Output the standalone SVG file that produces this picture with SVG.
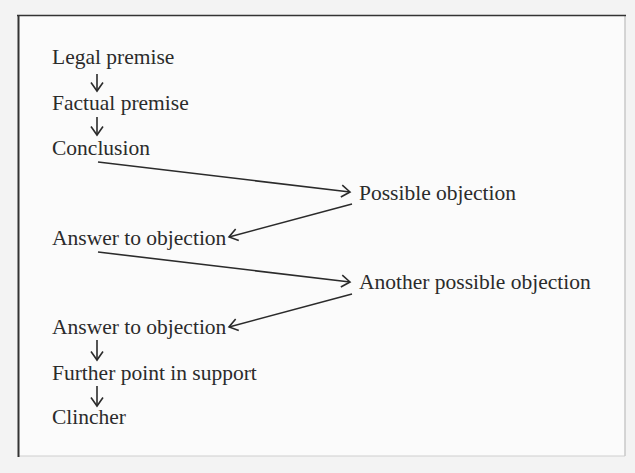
<svg xmlns="http://www.w3.org/2000/svg" width="635" height="473" viewBox="0 0 635 473">
<style>
.t{font-family:"Liberation Serif","DejaVu Serif",serif;font-size:21.5px;fill:#2b2b2b}
.c{stroke:#2b2b2b;stroke-width:1.6;fill:none}
</style>
<defs>
<marker id="ah" viewBox="0 0 12 14" refX="10" refY="7" markerWidth="12" markerHeight="14" markerUnits="userSpaceOnUse" orient="auto">
<path d="M1.5,1 L10,7 L1.5,13" fill="none" stroke="#2b2b2b" stroke-width="1.6"/>
</marker>
</defs>
<rect x="0" y="0" width="635" height="473" fill="#f3f3f3"/>
<rect x="18" y="15" width="607" height="441" fill="#fbfbfb"/>
<g id="frame">
<line x1="18" y1="456" x2="625" y2="456" stroke="#d0d0d0" stroke-width="1.2"/>
<line x1="625" y1="15" x2="625" y2="456" stroke="#c8c8c8" stroke-width="1.5"/>
<line x1="17" y1="15.5" x2="626" y2="15.5" stroke="#333" stroke-width="1.5"/>
<line x1="18.5" y1="15" x2="18.5" y2="457" stroke="#333" stroke-width="2"/>
</g>
<g id="n1"><text class="t" x="52" y="64">Legal premise</text></g>
<g id="n2"><text class="t" x="52" y="110">Factual premise</text></g>
<g id="n3"><text class="t" x="52" y="155">Conclusion</text></g>
<g id="n4"><text class="t" x="359" y="200">Possible objection</text></g>
<g id="n5"><text class="t" x="52" y="245">Answer to objection</text></g>
<g id="n6"><text class="t" x="359" y="289">Another possible objection</text></g>
<g id="n7"><text class="t" x="52" y="334">Answer to objection</text></g>
<g id="n8"><text class="t" x="52" y="380">Further point in support</text></g>
<g id="n9"><text class="t" x="52" y="424">Clincher</text></g>
<g id="connectors">
<line class="c" x1="97" y1="74" x2="97" y2="91" marker-end="url(#ah)"/>
<line class="c" x1="97" y1="117" x2="97" y2="135" marker-end="url(#ah)"/>
<line class="c" x1="98" y1="162" x2="350" y2="192" marker-end="url(#ah)"/>
<line class="c" x1="352" y1="204" x2="229" y2="237" marker-end="url(#ah)"/>
<line class="c" x1="98" y1="252" x2="350" y2="282" marker-end="url(#ah)"/>
<line class="c" x1="352" y1="294" x2="229" y2="327" marker-end="url(#ah)"/>
<line class="c" x1="97" y1="340" x2="97" y2="360" marker-end="url(#ah)"/>
<line class="c" x1="97" y1="386" x2="97" y2="406" marker-end="url(#ah)"/>
</g>
</svg>
